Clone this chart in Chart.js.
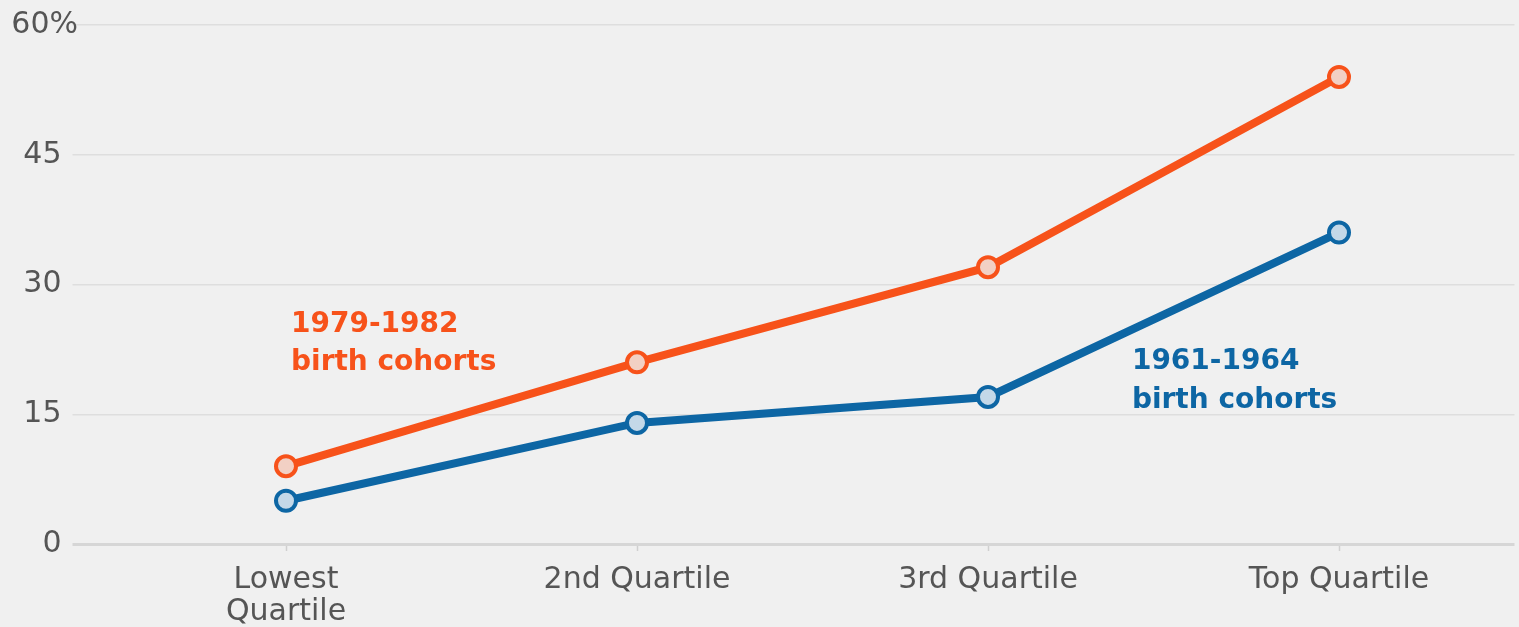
<!DOCTYPE html>
<html>
<head>
<meta charset="utf-8">
<script src="https://cdn.jsdelivr.net/npm/chart.js@4/dist/chart.umd.min.js"></script>
<style>
  html, body { margin: 0; padding: 0; background: #F0F0F0; }
  #wrap { width: 1519px; height: 627px; position: relative; }
</style>
</head>
<body>
<div id="wrap"><canvas id="c" width="1519" height="627"></canvas></div>
<script>
const categories = [["Lowest", "Quartile"], "2nd Quartile", "3rd Quartile", "Top Quartile"];
const cohort1979 = [9, 21, 32, 54];
const cohort1961 = [5, 14, 17, 36];
const yTicks = [0, 15, 30, 45, 60];
const seriesNames = [["1979-1982", "birth cohorts"], ["1961-1964", "birth cohorts"]];

const ORANGE = '#F7521A';
const BLUE = '#0D66A4';
const FONT = '"DejaVu Sans", sans-serif';

const labelPlugin = {
  id: 'labels',
  afterDatasetsDraw(chart) {
    const ctx = chart.ctx;
    const x = chart.scales.x, y = chart.scales.y;
    ctx.save();
    ctx.font = '30px ' + FONT;
    ctx.fillStyle = '#555';
    ctx.textAlign = 'right';
    ctx.textBaseline = 'middle';
    ctx.fillText(yTicks[yTicks.length - 1] + '%', 78, y.getPixelForValue(yTicks[yTicks.length - 1]));
    ctx.textAlign = 'left';
    ctx.font = 'bold 28px ' + FONT;
    ctx.fillStyle = ORANGE;
    const ox = x.getPixelForValue(0) + 5;
    ctx.fillText(seriesNames[0][0], ox, y.getPixelForValue(25.3));
    ctx.fillText(seriesNames[0][1], ox, y.getPixelForValue(20.9));
    ctx.fillStyle = BLUE;
    const bx = x.getPixelForValue(2) + 0.41 * (x.getPixelForValue(3) - x.getPixelForValue(2));
    ctx.fillText(seriesNames[1][0], bx, y.getPixelForValue(21.1));
    ctx.fillText(seriesNames[1][1], bx, y.getPixelForValue(16.6));
    ctx.restore();
  }
};

new Chart(document.getElementById('c'), {
  type: 'line',
  data: {
    labels: categories,
    datasets: [
      {
        data: cohort1961,
        borderColor: BLUE,
        borderWidth: 8,
        pointRadius: 10,
        pointBorderWidth: 4,
        pointBorderColor: BLUE,
        pointBackgroundColor: '#C4D8E8',
        tension: 0
      },
      {
        data: cohort1979,
        borderColor: ORANGE,
        borderWidth: 8,
        pointRadius: 10,
        pointBorderWidth: 4,
        pointBorderColor: ORANGE,
        pointBackgroundColor: '#F2D0C4',
        tension: 0
      }
    ]
  },
  options: {
    responsive: false,
    animation: false,
    devicePixelRatio: 1,
    layout: { autoPadding: false, padding: { top: 25, right: 4.5, left: 0, bottom: 0 } },
    plugins: { legend: { display: false }, tooltip: { enabled: false } },
    scales: {
      x: {
        type: 'category',
        offset: true,
        border: { display: false },
        grid: {
          display: true,
          drawOnChartArea: false,
          drawTicks: true,
          tickLength: 7,
          tickColor: '#D0D0D0',
          tickWidth: 1.5
        },
        ticks: {
          color: '#555',
          font: { family: FONT, size: 30, lineHeight: 1.07 },
          padding: 13,
          maxRotation: 0,
          autoSkip: false
        },
        afterFit(scale) { scale.height = 83; scale.paddingLeft = 0; scale.paddingRight = 0; }
      },
      y: {
        min: 0,
        max: 60,
        border: { display: false },
        afterBuildTicks(scale) { scale.ticks = yTicks.map(v => ({ value: v })); },
        afterFit(scale) { scale.width = 110.5; scale.paddingTop = 0; scale.paddingBottom = 0; },
        grid: {
          color: ctx => ctx.tick && ctx.tick.value === 0 ? '#D6D6D6' : '#DEDEDE',
          lineWidth: ctx => ctx.tick && ctx.tick.value === 0 ? 3 : 1.5,
          drawTicks: true,
          tickLength: 38,
          tickColor: ctx => ctx.tick && ctx.tick.value === 0 ? '#D6D6D6' : '#DEDEDE',
          tickWidth: ctx => ctx.tick && ctx.tick.value === 0 ? 3 : 1.5
        },
        ticks: {
          color: '#555',
          font: { family: FONT, size: 30 },
          padding: 11,
          callback: v => v === 60 ? '' : String(v)
        }
      }
    }
  },
  plugins: [labelPlugin]
});
</script>
</body>
</html>
